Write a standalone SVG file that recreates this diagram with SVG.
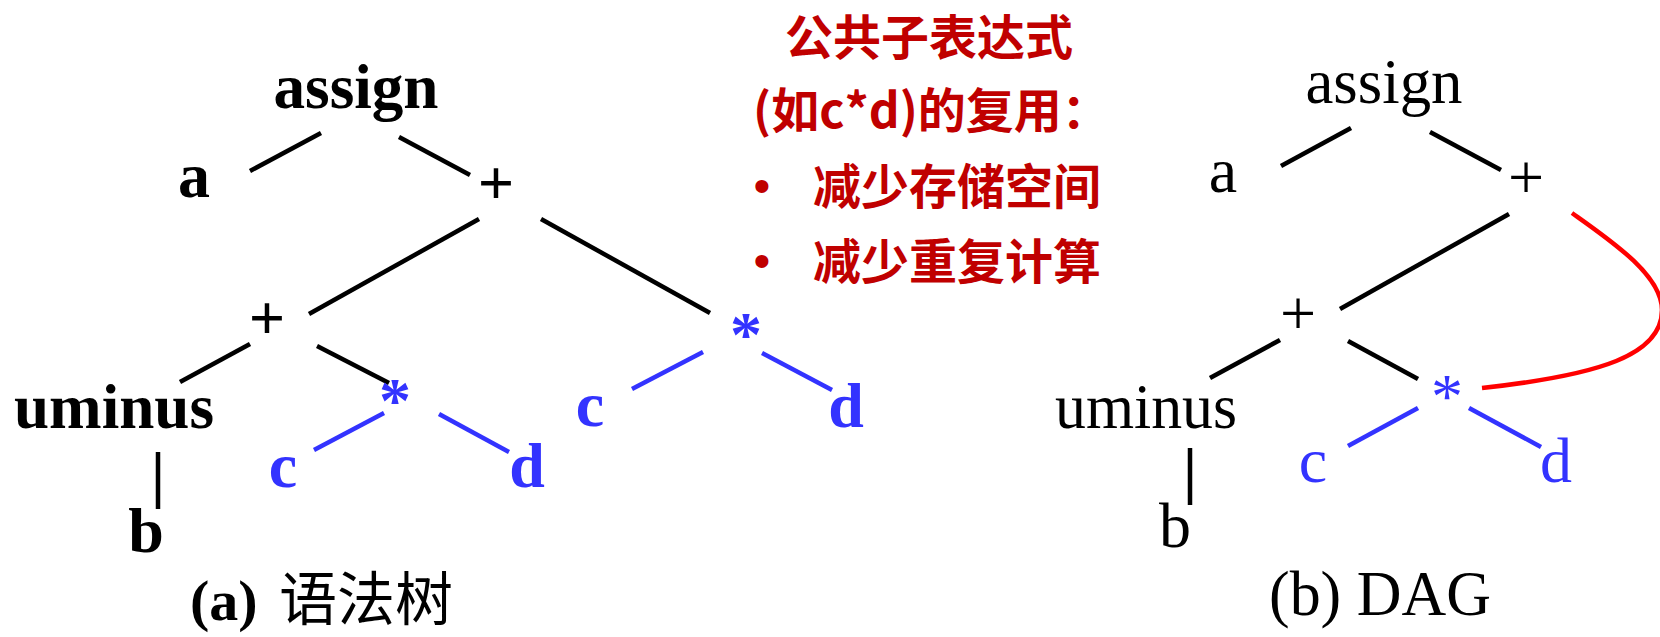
<svg xmlns="http://www.w3.org/2000/svg" width="1660" height="637" viewBox="0 0 1660 637">
<style>
.tb{font-family:"Liberation Serif","Times New Roman",serif;font-weight:bold;font-size:64px;fill:#000;text-anchor:middle}
.tr{font-family:"Liberation Serif","Times New Roman",serif;font-weight:normal;font-size:64px;fill:#000;text-anchor:middle}
.blue{fill:#3333FF}
.note{font-family:"Noto Sans CJK SC","Liberation Sans",sans-serif;font-weight:bold;font-size:48px;fill:#C00000}
.bul{font-family:"Liberation Sans",sans-serif;font-size:48px;fill:#C00000;text-anchor:middle}
.k{stroke:#000;stroke-width:4.5;fill:none}
.b{stroke:#3333FF;stroke-width:4.5;fill:none}
.r{stroke:#FF0000;stroke-width:4.5;fill:none}
.cap{font-family:"Liberation Serif","Times New Roman",serif;font-size:58px;fill:#000}
.cjk{font-family:"Noto Sans CJK SC",sans-serif;font-size:58px}
</style>
<rect width="1660" height="637" fill="#fff"/>
<g id="connectors">
<line class="k" x1="250" y1="171" x2="321" y2="133"/>
<line class="k" x1="399" y1="137" x2="470" y2="175"/>
<line class="k" x1="479" y1="219" x2="309" y2="314"/>
<line class="k" x1="541" y1="219" x2="710" y2="313"/>
<line class="k" x1="250" y1="344" x2="180" y2="382"/>
<line class="k" x1="317" y1="346" x2="389" y2="383"/>
<line class="k" x1="158" y1="452" x2="158" y2="509"/>
<line class="b" x1="384" y1="413" x2="314" y2="450"/>
<line class="b" x1="439" y1="414" x2="509" y2="452"/>
<line class="b" x1="703" y1="352" x2="632" y2="389"/>
<line class="b" x1="762" y1="353" x2="832" y2="390"/>
<line class="k" x1="1281" y1="166" x2="1351" y2="128"/>
<line class="k" x1="1430" y1="132" x2="1501" y2="170"/>
<line class="k" x1="1509" y1="214" x2="1340" y2="309"/>
<line class="k" x1="1280" y1="340" x2="1210" y2="378"/>
<line class="k" x1="1348" y1="341" x2="1418" y2="379"/>
<line class="k" x1="1190" y1="448" x2="1190" y2="505"/>
<line class="b" x1="1418" y1="408" x2="1348" y2="446"/>
<line class="b" x1="1469" y1="408" x2="1541" y2="447"/>
<path class="r" d="M1572,213 C1610,240 1662,275 1662,310 C1662,355 1600,375 1482,388"/>
</g>
<g id="tree-a">
<g id="a-assign"><text class="tb" x="356" y="108" textLength="165" lengthAdjust="spacingAndGlyphs">assign</text></g>
<g id="a-a"><text class="tb" x="194" y="197">a</text></g>
<g id="a-plus1"><text class="tb" x="496" y="204">+</text></g>
<g id="a-plus2"><text class="tb" x="267" y="339">+</text></g>
<g id="a-uminus"><text class="tb" x="114" y="428" textLength="200" lengthAdjust="spacingAndGlyphs">uminus</text></g>
<g id="a-b"><text class="tb" x="146" y="552">b</text></g>
<g id="a-star1"><text class="tb blue" x="395" y="422">*</text></g>
<g id="a-c1"><text class="tb blue" x="283" y="487">c</text></g>
<g id="a-d1"><text class="tb blue" x="527" y="487">d</text></g>
<g id="a-star2"><text class="tb blue" x="746" y="356">*</text></g>
<g id="a-c2"><text class="tb blue" x="590" y="426">c</text></g>
<g id="a-d2"><text class="tb blue" x="846" y="427">d</text></g>
<g id="a-caption"><text class="cap" x="190" y="620"><tspan font-weight="bold">(a)</tspan><tspan class="cjk" x="279">语法树</tspan></text></g>
</g>
<g id="note">
<text class="note" x="785" y="55">公共子表达式</text>
<text class="note" x="753" y="128">(如c*d)的复用：</text>
<text class="bul" x="762" y="202">•</text>
<text class="note" x="813" y="204">减少存储空间</text>
<text class="bul" x="762" y="277">•</text>
<text class="note" x="813" y="279">减少重复计算</text>
</g>
<g id="tree-b">
<g id="b-assign"><text class="tr" x="1384" y="103" textLength="157" lengthAdjust="spacingAndGlyphs">assign</text></g>
<g id="b-a"><text class="tr" x="1223" y="192">a</text></g>
<g id="b-plus1"><text class="tr" x="1526" y="199">+</text></g>
<g id="b-plus2"><text class="tr" x="1298" y="335">+</text></g>
<g id="b-uminus"><text class="tr" x="1146" y="428" textLength="182" lengthAdjust="spacingAndGlyphs">uminus</text></g>
<g id="b-b"><text class="tr" x="1175" y="547">b</text></g>
<g id="b-star"><text class="tr blue" x="1447" y="418">*</text></g>
<g id="b-c"><text class="tr blue" x="1313" y="482">c</text></g>
<g id="b-d"><text class="tr blue" x="1556" y="482">d</text></g>
<g id="b-caption"><text class="tr" x="1380" y="615" font-size="62" textLength="222" lengthAdjust="spacingAndGlyphs">(b) DAG</text></g>
</g>
</svg>
